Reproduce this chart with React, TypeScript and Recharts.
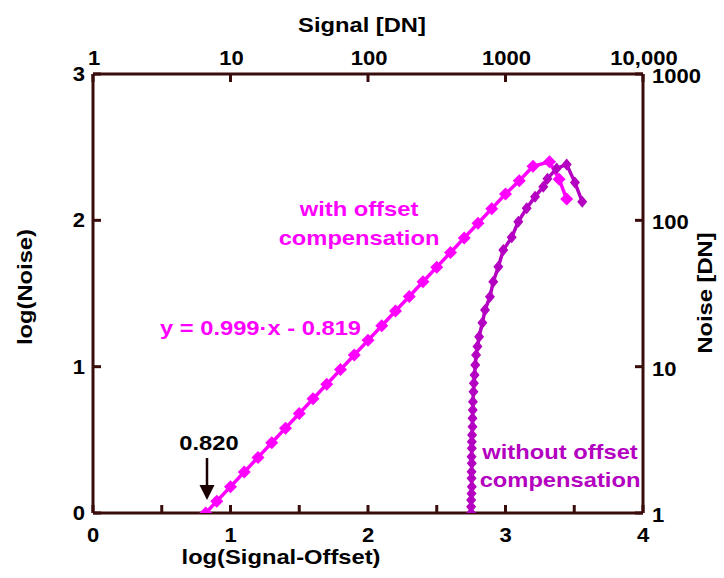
import { ScatterChart, Scatter, XAxis, YAxis } from 'recharts';

document.body.style.margin = '0';

const FONT = '"Liberation Sans", Arial, sans-serif';
const AXIS_COLOR = '#3a0d0d';
const MAGENTA = '#ff00ff';
const PURPLE = '#b400c0';
const STRETCH = 1.13;

// with offset compensation: log(Signal-Offset) vs log(Noise)
const withX = [0.82, 0.9, 1.0, 1.1, 1.2, 1.3, 1.4, 1.5, 1.6, 1.7, 1.8, 1.9, 2.0, 2.1, 2.2, 2.3, 2.4, 2.5, 2.6, 2.7, 2.8, 2.9, 3.0, 3.1, 3.2, 3.32, 3.39, 3.445];
const withY = [0, 0.08, 0.18, 0.28, 0.38, 0.48, 0.58, 0.68, 0.78, 0.88, 0.98, 1.08, 1.18, 1.28, 1.38, 1.48, 1.58, 1.68, 1.78, 1.88, 1.98, 2.08, 2.18, 2.27, 2.37, 2.40, 2.28, 2.145];

// without offset compensation
const withoutX = [2.75, 2.75, 2.75, 2.753, 2.755, 2.753, 2.753, 2.755, 2.753, 2.755, 2.755, 2.757, 2.76, 2.76, 2.762, 2.763, 2.767, 2.77, 2.775, 2.78, 2.786, 2.796, 2.808, 2.832, 2.851, 2.887, 2.911, 2.948, 2.984, 3.045, 3.093, 3.154, 3.215, 3.275, 3.305, 3.372, 3.445, 3.505, 3.558];
const withoutY = [0, 0.043, 0.089, 0.134, 0.18, 0.237, 0.282, 0.34, 0.385, 0.442, 0.487, 0.533, 0.59, 0.647, 0.704, 0.76, 0.829, 0.886, 0.943, 1.011, 1.08, 1.137, 1.205, 1.3, 1.387, 1.478, 1.581, 1.683, 1.797, 1.884, 1.991, 2.082, 2.162, 2.23, 2.285, 2.355, 2.382, 2.258, 2.127];

const bottomTicks = [0, 0.5, 1, 1.5, 2, 2.5, 3, 3.5, 4];
const bottomLabels: Record<string, string> = { '0': '0', '1': '1', '2': '2', '3': '3', '4': '4' };
const topTicks = [0, 1, 2, 3, 4];
const topLabels: Record<string, string> = { '0': '1', '1': '10', '2': '100', '3': '1000', '4': '10,000' };
const leftTicks = [0, 1, 2, 3];
const leftLabels: Record<string, string> = { '0': '0', '1': '1', '2': '2', '3': '3' };
const rightTicks = [0, 1, 2, 3];
const rightLabels: Record<string, string> = { '0': '1', '1': '10', '2': '100', '3': '1000' };

const withData = withX.map((x, i) => ({ x, y: withY[i] }));
const withoutData = withoutX.map((x, i) => ({ x, y: withoutY[i] }));

function tickRenderer(labels: Record<string, string>, anchor: 'start' | 'middle' | 'end', dx: number, dy: number) {
    return (props: any) => {
        const { x, y, payload } = props;
        const label = labels[String(payload.value)] ?? '';
        return (
            <g transform={`translate(${x + dx},${y + dy}) scale(${STRETCH},1)`}>
                <text textAnchor={anchor} fill="#000" fontSize={19.5} fontWeight="bold" fontFamily={FONT}>
                    {label}
                </text>
            </g>
        );
    };
}

function diamond(color: string, w: number, h: number) {
    return (props: any) => {
        const { cx, cy } = props;
        return (
            <polygon
                points={`${cx},${cy - h} ${cx + w},${cy} ${cx},${cy + h} ${cx - w},${cy}`}
                fill={color}
                stroke="none"
            />
        );
    };
}

const axisLine = { stroke: AXIS_COLOR, strokeWidth: 3 };
const tickLine = { stroke: AXIS_COLOR, strokeWidth: 3 };

function Txt({ x, y, children, color = MAGENTA, anchor = 'middle', size = 21, rotate = 0 }: any) {
    return (
        <text
            transform={`translate(${x},${y}) rotate(${rotate}) scale(${STRETCH},1)`}
            textAnchor={anchor}
            fill={color}
            fontSize={size}
            fontWeight="bold"
            fontFamily={FONT}
        >
            {children}
        </text>
    );
}

export default function App() {
    return (
        <div style={{ position: 'relative', width: 724, height: 578, background: '#fff' }}>
            <ScatterChart width={724} height={578} margin={{ top: 34, right: 21, bottom: 25, left: 33 }}>
                <XAxis
                    xAxisId="bottom"
                    dataKey="x"
                    type="number"
                    domain={[0, 4]}
                    allowDataOverflow
                    ticks={bottomTicks}
                    interval={0}
                    height={40}
                    tickSize={-8}
                    tickMargin={8}
                    axisLine={axisLine}
                    tickLine={tickLine}
                    tick={tickRenderer(bottomLabels, 'middle', 0, 29)}
                />
                <XAxis
                    xAxisId="top"
                    orientation="top"
                    dataKey="x"
                    type="number"
                    domain={[0, 4]}
                    allowDataOverflow
                    ticks={topTicks}
                    interval={0}
                    height={40}
                    tickSize={-8}
                    tickMargin={8}
                    axisLine={axisLine}
                    tickLine={tickLine}
                    tick={tickRenderer(topLabels, 'middle', 1, -9)}
                />
                <YAxis
                    yAxisId="left"
                    dataKey="y"
                    type="number"
                    domain={[0, 3]}
                    allowDataOverflow
                    ticks={leftTicks}
                    interval={0}
                    width={60}
                    tickSize={-8}
                    tickMargin={8}
                    axisLine={axisLine}
                    tickLine={tickLine}
                    tick={tickRenderer(leftLabels, 'end', -8, 7)}
                />
                <YAxis
                    yAxisId="right"
                    orientation="right"
                    dataKey="y"
                    type="number"
                    domain={[0, 3]}
                    allowDataOverflow
                    ticks={rightTicks}
                    interval={0}
                    width={60}
                    tickSize={-8}
                    tickMargin={8}
                    axisLine={axisLine}
                    tickLine={tickLine}
                    tick={tickRenderer(rightLabels, 'start', 9, 9)}
                />
                <Scatter
                    xAxisId="bottom"
                    yAxisId="left"
                    data={withData}
                    fill={MAGENTA}
                    line={{ stroke: MAGENTA, strokeWidth: 3.5 }}
                    shape={diamond(MAGENTA, 6.5, 6.5)}
                    isAnimationActive={false}
                />
                <Scatter
                    xAxisId="bottom"
                    yAxisId="left"
                    data={withoutData}
                    fill={PURPLE}
                    line={{ stroke: PURPLE, strokeWidth: 3.5 }}
                    shape={diamond(PURPLE, 5, 6)}
                    isAnimationActive={false}
                />
            </ScatterChart>
            <svg
                width={724}
                height={578}
                style={{ position: 'absolute', left: 0, top: 0, pointerEvents: 'none' }}
            >
                <Txt x={362} y={32} color="#000">Signal [DN]</Txt>
                <Txt x={281} y={564} color="#000">log(Signal-Offset)</Txt>
                <Txt x={32} y={287} color="#000" rotate={-90}>log(Noise)</Txt>
                <Txt x={712} y={293} color="#000" rotate={-90}>Noise [DN]</Txt>

                <Txt x={359} y={216}>with offset</Txt>
                <Txt x={359} y={245}>compensation</Txt>
                <Txt x={160} y={335} anchor="start">y = 0.999·x - 0.819</Txt>

                <Txt x={560} y={459} color={PURPLE}>without offset</Txt>
                <Txt x={560} y={487} color={PURPLE}>compensation</Txt>

                <Txt x={209} y={450} color="#000">0.820</Txt>
                <line x1={207} y1={458} x2={207} y2={488} stroke="#1a0000" strokeWidth={2.5} />
                <polygon points="207,500 199.5,485 214.5,485" fill="#1a0000" />
            </svg>
        </div>
    );
}
